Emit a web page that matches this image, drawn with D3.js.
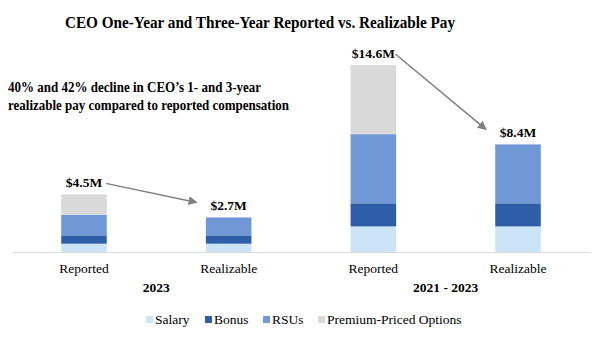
<!DOCTYPE html>
<html>
<head>
<meta charset="utf-8">
<script src="https://cdn.jsdelivr.net/npm/d3@7"></script>
<style>
  body { margin: 0; background: #fff; }
  text { font-family: "Liberation Serif", "Times New Roman", serif; fill: #000; }
</style>
</head>
<body>
<div id="chart"></div>
<script>
// data (in $M)
const bars = ["Reported 2023", "Realizable 2023", "Reported 3yr", "Realizable 3yr"];
const barLabels = ["Reported", "Realizable", "Reported", "Realizable"];
const groups = ["2023", "2021 - 2023"];
const seriesNames = ["Salary", "Bonus", "RSUs", "Premium-Priced Options"];
const salary = [0.65, 0.65, 2.0, 2.0];
const bonus = [0.65, 0.65, 1.8, 1.8];
const rsus = [1.6, 1.4, 5.4, 4.6];
const options = [1.6, 0, 5.4, 0];
const totals = ["$4.5M", "$2.7M", "$14.6M", "$8.4M"];
const colors = ["#cce4f7", "#2f5ea8", "#7098d7", "#d9d9d9"];

const W = 600, H = 344;
const svg = d3.select("#chart").append("svg")
    .attr("width", W).attr("height", H);

const rows = bars.map((b, i) => ({
    key: b, Salary: salary[i], Bonus: bonus[i], RSUs: rsus[i], "Premium-Priced Options": options[i]
}));
const stacked = d3.stack().keys(seriesNames)(rows);

const x = d3.scaleBand()
    .domain(bars)
    .range([12, 590])
    .paddingInner(0.685)
    .paddingOuter(0.34);

const y = d3.scaleLinear()
    .domain([0, 14.6])
    .range([252, 65]);

// title
svg.append("text")
    .attr("x", 260).attr("y", 27.5)
    .attr("text-anchor", "middle")
    .attr("textLength", 390).attr("lengthAdjust", "spacingAndGlyphs")
    .style("font-size", "16.5px").style("font-weight", "bold")
    .text("CEO One-Year and Three-Year Reported vs. Realizable Pay");

// note
const note = ["40% and 42% decline in CEO\u2019s 1- and 3-year",
              "realizable pay compared to reported compensation"];
const noteLen = [253, 281];
svg.selectAll(".note").data(note).enter().append("text")
    .attr("class", "note")
    .attr("x", 8).attr("y", (d, i) => 92 + i * 17.5)
    .attr("textLength", (d, i) => noteLen[i]).attr("lengthAdjust", "spacingAndGlyphs")
    .style("font-size", "14px").style("font-weight", "bold")
    .text(d => d);

// bars
svg.append("g").selectAll("g").data(stacked).enter().append("g")
    .attr("fill", (d, i) => colors[i])
    .selectAll("rect").data(d => d).enter().append("rect")
    .attr("x", d => x(d.data.key))
    .attr("y", d => y(d[1]))
    .attr("width", x.bandwidth())
    .attr("height", d => y(d[0]) - y(d[1]));

// baseline
svg.append("line")
    .attr("x1", 12).attr("x2", 590)
    .attr("y1", y(0) + 0.5).attr("y2", y(0) + 0.5)
    .attr("stroke", "#d9d9d9").attr("stroke-width", 1);

// axis labels
const axis = d3.axisBottom(x).tickSize(0).tickFormat((d, i) => barLabels[i]);
const gx = svg.append("g").attr("transform", `translate(0,${y(0)})`).call(axis);
gx.select(".domain").remove();
gx.selectAll("text")
    .attr("dy", 0).attr("y", 21)
    .style("font-size", "13.5px")
    .style("font-family", "'Liberation Serif', serif");

// group labels
const groupX = [
    (x(bars[0]) + x(bars[1]) + x.bandwidth()) / 2,
    (x(bars[2]) + x(bars[3]) + x.bandwidth()) / 2
];
svg.selectAll(".grp").data(groups).enter().append("text")
    .attr("class", "grp")
    .attr("x", (d, i) => groupX[i]).attr("y", 292)
    .attr("text-anchor", "middle")
    .style("font-size", "13.5px").style("font-weight", "bold")
    .text(d => d);

// total labels
const tops = bars.map((b, i) => salary[i] + bonus[i] + rsus[i] + options[i]);
svg.selectAll(".tot").data(totals).enter().append("text")
    .attr("class", "tot")
    .attr("x", (d, i) => x(bars[i]) + x.bandwidth() / 2)
    .attr("y", (d, i) => y(tops[i]) - 7)
    .attr("text-anchor", "middle")
    .style("font-size", "13.5px").style("font-weight", "bold")
    .text(d => d);

// arrows
svg.append("defs").append("marker")
    .attr("id", "arr")
    .attr("viewBox", "0 0 10 10")
    .attr("refX", 9).attr("refY", 5)
    .attr("markerWidth", 6).attr("markerHeight", 6)
    .attr("orient", "auto")
    .append("path").attr("d", "M0,0L10,5L0,10z").attr("fill", "#7f7f7f");

const arrows = [[0, 1], [2, 3]];
svg.selectAll(".arrow").data(arrows).enter().append("line")
    .attr("class", "arrow")
    .attr("x1", d => x(bars[d[0]]) + x.bandwidth() / 2 + 22)
    .attr("y1", d => y(tops[d[0]]) - 11)
    .attr("x2", d => x(bars[d[1]]) + x.bandwidth() / 2 - 32)
    .attr("y2", d => y(tops[d[1]]) - 15)
    .attr("stroke", "#7f7f7f").attr("stroke-width", 1.5)
    .attr("marker-end", "url(#arr)");

// legend
const legX = [146, 205, 263, 318];
const leg = svg.selectAll(".leg").data(seriesNames).enter().append("g")
    .attr("class", "leg")
    .attr("transform", (d, i) => `translate(${legX[i]},320)`);
leg.append("rect")
    .attr("x", 0).attr("y", -4).attr("width", 7).attr("height", 7)
    .attr("fill", (d, i) => colors[i]);
leg.append("text")
    .attr("x", 9).attr("y", 4)
    .style("font-size", "13.5px")
    .text(d => d);
</script>
</body>
</html>
